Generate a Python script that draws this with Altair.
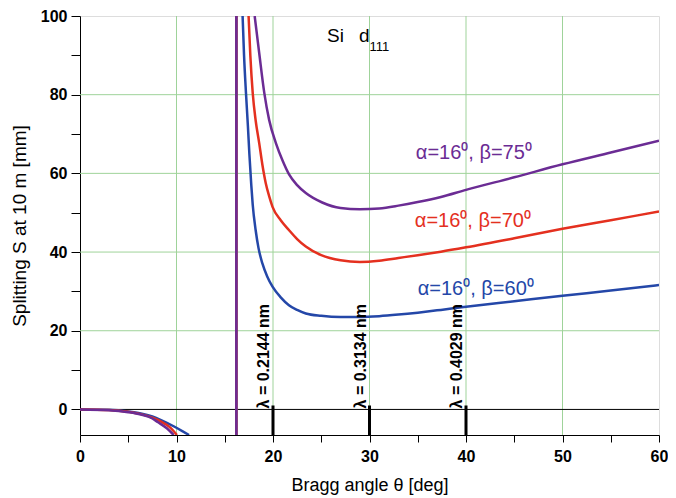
import altair as alt
import pandas as pd

# ---------------- data ----------------
# negative branches (small angles)
neg_x_b60 = [0, 3, 5, 6.3, 7.5, 8.4, 9.8, 10.6, 11.3]
neg_y_b60 = [0, -0.1, -0.5, -1.0, -1.8, -2.7, -4.4, -5.5, -6.5]
neg_x_b70 = [0, 3, 5, 6.3, 7.5, 8.4, 9.3, 10.04]
neg_y_b70 = [0, -0.15, -0.6, -1.2, -2.1, -3.1, -4.5, -6.5]
neg_x_b75 = [0, 3, 5, 6.3, 7.5, 8.05, 9.0, 9.7]
neg_y_b75 = [0, -0.2, -0.7, -1.3, -2.3, -3.2, -4.8, -6.5]

# vertical jump
jump_x = [16.2, 16.2]
jump_y = [-6.5, 100]

# positive branches
pos_x_b60 = [16.85, 17.0, 17.2, 17.4, 17.55, 17.75, 17.9, 18.2, 18.5, 18.9, 19.4, 19.95, 20.8, 21.65, 22.5, 23.4,
             25, 27, 29, 31, 33, 35, 37.4, 40, 45, 50, 55, 60]
pos_y_b60 = [100, 90, 80.4, 72, 65, 57, 52, 45.6, 41, 37.1, 33.8, 31.2, 28.5, 26.5, 25.3, 24.4,
             23.8, 23.5, 23.5, 23.7, 24.1, 24.6, 25.3, 26.1, 27.5, 28.9, 30.2, 31.6]
pos_x_b70 = [17.47, 17.65, 17.9, 18.2, 18.57, 18.9, 19.25, 19.6, 19.95, 20.8, 21.65, 22.5, 23.4,
             25, 27, 29, 31, 33, 35, 37.4, 40, 45, 50, 55, 60]
pos_y_b70 = [100, 90, 80.4, 73.5, 67.7, 62.2, 57.5, 54.2, 51.5, 48.1, 45.6, 43.3, 41.4,
             39.2, 37.9, 37.5, 37.8, 38.5, 39.2, 40.1, 41.2, 43.5, 45.9, 48.1, 50.3]
pos_x_b75 = [18.1, 18.57, 19.1, 19.6, 20.3, 21.0, 21.65, 22.5, 23.4, 25.1, 27, 29, 31, 33, 35, 37.4, 40, 45, 50, 55, 60]
pos_y_b75 = [100, 90.6, 80.4, 73.6, 67.7, 63.2, 59.8, 57.0, 55.0, 52.6, 51.2, 50.9, 51.1, 51.8, 52.7, 54.0,
             55.8, 59.0, 62.3, 65.3, 68.3]

series_names = ["b60", "b70", "b75"]
series_colors = ["#2447a8", "#e4301f", "#6b2c94"]
series_labels = ["α=16⁰, β=60⁰", "α=16⁰, β=70⁰", "α=16⁰, β=75⁰"]
label_x = [35.0, 34.7, 34.8]
label_y = [30.5, 47.9, 65.1]

lambda_x = [20, 30, 40]
lambda_text = ["λ = 0.2144 nm", "λ = 0.3134 nm", "λ = 0.4029 nm"]

grid_x = [10, 20, 30, 40, 50]
grid_y = [20, 40, 60, 80]

title_parts = ["Si", "d", "111"]
title_x = [25.6, 28.9, 30.0]
title_y = [94.9, 94.9, 92.2]
title_size = [19, 19, 13]

Y_MIN, Y_MAX = -6.5, 100
X_MIN, X_MAX = 0, 60

FONT = "Liberation Sans"
GREEN = "#9fd39a"

curves = {
    "b60": [(neg_x_b60, neg_y_b60), (jump_x, jump_y), (pos_x_b60, pos_y_b60)],
    "b70": [(neg_x_b70, neg_y_b70), (jump_x, jump_y), (pos_x_b70, pos_y_b70)],
    "b75": [(neg_x_b75, neg_y_b75), (jump_x, jump_y), (pos_x_b75, pos_y_b75)],
}

xs = alt.Scale(domain=[X_MIN, X_MAX], nice=False, zero=False)
ys = alt.Scale(domain=[Y_MIN, Y_MAX], nice=False, zero=False)

x_axis = alt.Axis(
    values=list(range(0, 61, 5)),
    labelExpr="datum.value % 10 == 0 ? datum.label : ''",
    grid=False, tickSize=7, tickColor="black", domainColor="black",
    labelFontWeight="bold", labelFontSize=16, labelColor="black", labelFont=FONT,
    labelFlush=False, labelPadding=6,
    title="Bragg angle θ [deg]", titleFontSize=18, titleFontWeight="normal",
    titleFont=FONT, titleColor="black", titlePadding=12,
)
y_axis = alt.Axis(
    values=list(range(0, 101, 10)),
    labelExpr="datum.value % 20 == 0 ? datum.label : ''",
    grid=False, tickSize=9, tickColor="black", domainColor="black",
    labelFontWeight="bold", labelFontSize=16, labelColor="black", labelFont=FONT,
    labelFlush=False, labelPadding=4,
    title="Splitting S at 10 m [mm]", titleFontSize=19, titleFontWeight="normal",
    titleFont=FONT, titleColor="black", titlePadding=11,
)

# gridlines
gx = alt.Chart(pd.DataFrame({"x": grid_x})).mark_rule(color=GREEN, strokeWidth=1).encode(
    x=alt.X("x:Q", scale=xs, axis=x_axis))
gy = alt.Chart(pd.DataFrame({"y": grid_y})).mark_rule(color=GREEN, strokeWidth=1).encode(
    y=alt.Y("y:Q", scale=ys, axis=y_axis))
zero = alt.Chart(pd.DataFrame({"y": [0]})).mark_rule(color="black", strokeWidth=1).encode(
    y=alt.Y("y:Q", scale=ys))

layers = [gx, gy, zero]
for name, color in zip(series_names, series_colors):
    rows = []
    for si, (sx, sy) in enumerate(curves[name]):
        for i, (a, b) in enumerate(zip(sx, sy)):
            rows.append({"theta": a, "S": b, "seg": si, "idx": i})
    df = pd.DataFrame(rows)
    layers.append(
        alt.Chart(df).mark_line(color=color, strokeWidth=2.5, clip=True, interpolate="monotone").encode(
            x=alt.X("theta:Q", scale=xs),
            y=alt.Y("S:Q", scale=ys),
            detail="seg:N",
            order="idx:Q",
        )
    )

# lambda tick marks
lam_df = pd.DataFrame({"x": lambda_x, "y1": [1.0] * 3, "y2": [Y_MIN] * 3, "t": lambda_text, "y0": [0.0] * 3})
layers.append(alt.Chart(lam_df).mark_rule(color="black", strokeWidth=3).encode(
    x=alt.X("x:Q", scale=xs), y=alt.Y("y1:Q", scale=ys), y2="y2:Q"))
layers.append(alt.Chart(lam_df).mark_text(
    angle=270, align="left", baseline="alphabetic", dx=1, dy=-4,
    font=FONT, fontSize=16, fontWeight="bold", color="black").encode(
    x=alt.X("x:Q", scale=xs), y=alt.Y("y0:Q", scale=ys), text="t:N"))

# curve labels
lab_df = pd.DataFrame({"x": label_x, "y": label_y, "t": series_labels, "c": series_names})
layers.append(alt.Chart(lab_df).mark_text(
    align="left", baseline="middle", font=FONT, fontSize=20).encode(
    x=alt.X("x:Q", scale=xs), y=alt.Y("y:Q", scale=ys), text="t:N",
    color=alt.Color("c:N", scale=alt.Scale(domain=series_names, range=series_colors), legend=None)))

# title "Si d111"
title_df = pd.DataFrame({"x": title_x, "y": title_y, "t": title_parts, "s": title_size})
layers.append(alt.Chart(title_df).mark_text(
    align="left", baseline="middle", font=FONT, color="black").encode(
    x=alt.X("x:Q", scale=xs), y=alt.Y("y:Q", scale=ys), text="t:N",
    size=alt.Size("s:Q", scale=None, legend=None)))

chart = alt.layer(*layers).properties(
    width=579, height=419,
    autosize=alt.AutoSizeParams(type="none"),
    padding={"left": 72, "top": 8, "right": 9, "bottom": 62},
).configure_view(stroke="#888888", strokeWidth=1).configure(background="white")

chart.save("out.html", embed_options={"renderer": "svg", "actions": False})
